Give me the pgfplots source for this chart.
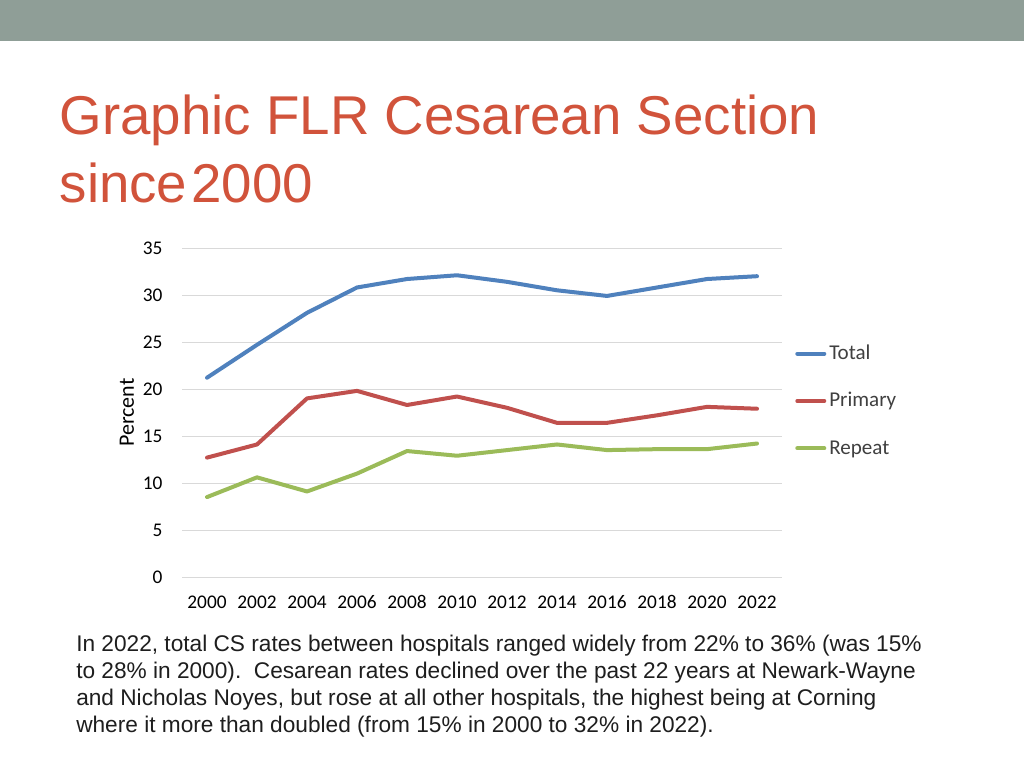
\documentclass[border=0pt]{standalone}
\usepackage{pgfplots}
\pgfplotsset{compat=1.18}
\usepackage{fontspec}
\setmainfont{Liberation Sans}
\newfontfamily\carlito{Carlito}
\definecolor{band}{RGB}{143,158,151}
\definecolor{titlecol}{RGB}{209,83,59}
\definecolor{bodycol}{RGB}{30,30,30}
\definecolor{gridcol}{RGB}{217,217,217}
\definecolor{legtext}{RGB}{64,64,64}
\definecolor{cblue}{RGB}{79,129,189}
\definecolor{cred}{RGB}{192,80,77}
\definecolor{cgreen}{RGB}{155,187,89}
\begin{document}
\begin{tikzpicture}
\useasboundingbox (0,0) rectangle (768pt,576pt);
\fill[white] (0,0) rectangle (768pt,576pt);
\fill[band] (0,545.25pt) rectangle (768pt,576pt);
% title
\node[anchor=base west, inner sep=0pt, text=titlecol, font=\fontsize{41}{41}\selectfont] at (44.6pt,474.75pt) {Graphic FLR Cesarean Section};
\node[anchor=base west, inner sep=0pt, text=titlecol, font=\fontsize{41}{41}\selectfont] at (44.6pt,423.75pt) {since\hspace{3pt}2000};
% body text
\begin{scope}[every node/.style={anchor=base west, inner sep=0pt, text=bodycol, font=\fontsize{17}{17}\selectfont}]
\node at (57pt,87.75pt) {In 2022, total CS rates between hospitals ranged widely from 22\% to 36\% (was 15\%};
\node at (57pt,67.5pt) {to 28\% in 2000).\ \ Cesarean rates declined over the past 22 years at Newark-Wayne};
\node at (57pt,47.25pt) {and Nicholas Noyes, but rose at all other hospitals, the highest being at Corning};
\node at (57pt,27pt) {where it more than doubled (from 15\% in 2000 to 32\% in 2022).};
\end{scope}
\begin{axis}[
  at={(136.5pt,143.25pt)}, anchor=south west,
  scale only axis, width=450pt, height=246.75pt,
  xmin=-0.5, xmax=11.5, ymin=0, ymax=35,
  xtick={0,1,2,3,4,5,6,7,8,9,10,11},
  xticklabels={2000,2002,2004,2006,2008,2010,2012,2014,2016,2018,2020,2022},
  ytick={0,5,10,15,20,25,30,35},
  ymajorgrids, grid style={color=gridcol, line width=0.75pt},
  axis line style={draw=none}, major tick length=0pt,
  /pgf/number format/assume math mode=true,
  tick label style={font=\carlito\fontsize{14.5}{14.5}\selectfont, text=black},
  xticklabel style={anchor=base, inner sep=0pt, yshift=-23.4pt},
  yticklabel style={anchor=east, inner sep=0pt, xshift=-14.5pt},
  ylabel={Percent},
  ylabel style={at={(axis description cs:-0.0917,0.5)}, anchor=center, font=\carlito\fontsize{16.5}{16.5}\selectfont, text=black},
  clip=false,
  legend cell align=left,
  legend style={at={(axis description cs:1.0217,0.706)}, anchor=north west, draw=none, fill=none, inner sep=0pt, row sep=20.5pt, column sep=2.25pt,
    font=\carlito\fontsize{15.8}{15.8}\selectfont, text=legtext,
    nodes={inner sep=0pt, text height=11pt, text depth=4pt, anchor=base west}},
  legend image code/.code={\draw[#1, line cap=round] (1.5pt,4.5pt) -- (21.75pt,4.5pt);},
  every axis plot/.append style={line width=3pt, line join=round, line cap=round, mark=none},
]
\addplot[cblue] coordinates {(0,21.2) (1,24.7) (2,28.1) (3,30.8) (4,31.7) (5,32.1) (6,31.4) (7,30.5) (8,29.9) (9,30.8) (10,31.7) (11,32.0)};
\addlegendentry{Total}
\addplot[cred] coordinates {(0,12.7) (1,14.1) (2,19.0) (3,19.8) (4,18.3) (5,19.2) (6,18.0) (7,16.4) (8,16.4) (9,17.2) (10,18.1) (11,17.9)};
\addlegendentry{Primary}
\addplot[cgreen] coordinates {(0,8.5) (1,10.6) (2,9.1) (3,11.0) (4,13.4) (5,12.9) (6,13.5) (7,14.1) (8,13.5) (9,13.6) (10,13.6) (11,14.2)};
\addlegendentry{Repeat}
\end{axis}
\end{tikzpicture}
\end{document}
